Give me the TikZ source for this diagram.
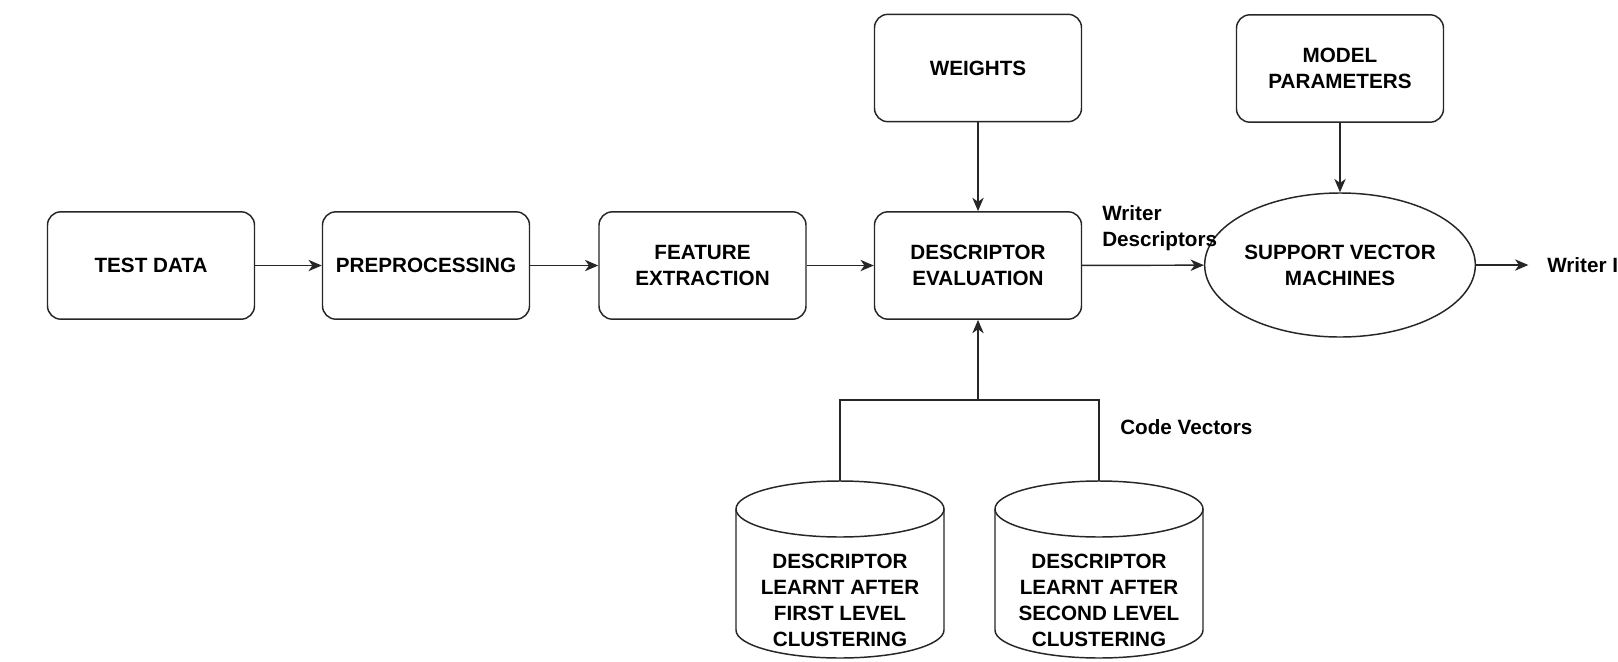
\documentclass[tikz,border=0pt]{standalone}
\usepackage{fontspec}
\setmainfont{Liberation Sans}
\usetikzlibrary{arrows.meta,shapes.geometric}
\definecolor{linec}{gray}{0.15}
\begin{document}
\begin{tikzpicture}[x=0.75pt,y=0.75pt,
  txt/.style={font=\bfseries\fontsize{15.5}{19.5}\selectfont, align=center, inner sep=0pt},
  box/.style={txt, draw=linec, line width=1.1pt, rounded corners=10pt,
              minimum width=155.25pt, minimum height=80.5pt},
  oval/.style={txt, ellipse, draw=linec, line width=1.1pt,
              minimum width=156pt, minimum height=108pt},
  lbl/.style={font=\bfseries\fontsize{15.5}{19.5}\selectfont, inner sep=0pt},
  conn/.style={draw=linec, line width=1.1pt},
  arr/.style={conn, -{Stealth[length=10pt,width=8.5pt,inset=3pt]}},
  cyl/.style={draw=linec, line width=1.1pt}]
\clip (0,0) rectangle (1618,-661);
\fill[white] (0,0) rectangle (1618,-661);

\node[box] (td)  at (151,-265.5) {TEST DATA};
\node[box] (pre) at (426,-265.5) {PREPROCESSING};
\node[box] (fe)  at (702.5,-265.5) {FEATURE\\EXTRACTION};
\node[box] (de)  at (978,-265.5) {DESCRIPTOR\\EVALUATION};
\node[box] (w)   at (978,-68) {WEIGHTS};
\node[box] (mp)  at (1340,-68.5) {MODEL\\PARAMETERS};
\node[oval] (svm) at (1340,-265) {SUPPORT VECTOR\\MACHINES};
\node[lbl, anchor=west] (wid) at (1547,-265) {Writer ID};
\node[lbl, anchor=north west, align=left] (wd) at (1102,-205) {Writer\\Descriptors};
\node[lbl, anchor=west] (cv) at (1120,-427) {Code Vectors};

% cylinders
\foreach \cx/\n/\t in {840/c1/FIRST, 1099/c2/SECOND}{
  \draw[cyl] (\cx-104,-509) -- (\cx-104,-630)
    arc[start angle=180,end angle=360,x radius=104,y radius=28] -- (\cx+104,-509);
  \draw[cyl] (\cx,-509) ellipse [x radius=104, y radius=28];
  \coordinate (\n top) at (\cx,-481);
  \node[txt] (\n) at (\cx,-600.5) {DESCRIPTOR\\LEARNT AFTER\\\t{} LEVEL\\CLUSTERING};
}
\coordinate (j) at (978,-400);

\draw[arr] (td) -- (pre);
\draw[arr] (pre) -- (fe);
\draw[arr] (fe) -- (de);
\draw[arr] (w) -- (de);
\draw[arr] (de) -- (svm);
\draw[arr] (mp) -- (svm);
\draw[arr] (svm) -- ([xshift=-14pt]wid.west);
\draw[conn] (c1top) |- (j) -| (c2top);
\draw[arr] (j) -- (de);
\end{tikzpicture}
\end{document}
